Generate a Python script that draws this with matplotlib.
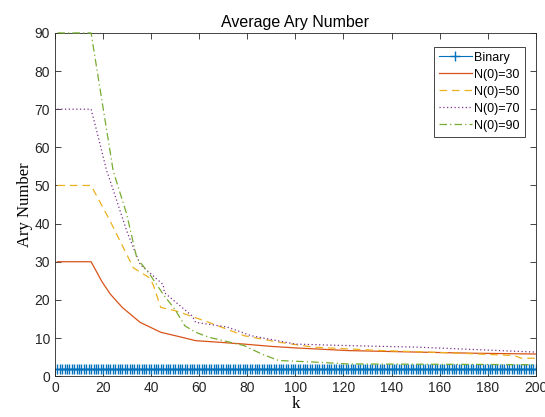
import numpy as np
import matplotlib
matplotlib.use('Agg')
import matplotlib.pyplot as plt

# Datos
k_bin = np.arange(1, 201)
y_bin = [2] * 200

k_30 = [1, 15, 19.5, 23, 28, 35.4, 44, 52.7, 58.5, 68, 78.7, 90, 100, 122, 151, 175, 200]
y_30 = [30, 30, 24.8, 21.5, 18, 14.1, 11.5, 10.2, 9.3, 8.9, 8.4, 7.8, 7.4, 6.7, 6.3, 6.0, 5.8]

k_50 = [1, 15, 22.9, 32.6, 39.5, 41, 44, 49.8, 54, 64, 71.5, 78.7, 93, 107.6, 136, 165, 191, 194, 200]
y_50 = [50, 50, 40.7, 28.4, 25.7, 23.7, 18, 17.2, 16.3, 14.1, 12.3, 10.6, 8.9, 7.6, 6.7, 6.1, 5.4, 4.7, 4.7]

k_70 = [1, 15, 17.3, 21.5, 22.9, 29.8, 35.4, 45, 45.5, 57, 58.5, 71.5, 81.6, 100, 122, 151, 200]
y_70 = [70, 70, 64.4, 53.8, 51.3, 38.1, 29.3, 24, 21.9, 15.8, 14.1, 12.9, 10.6, 8.4, 8.0, 7.6, 6.3]

k_90 = [1, 15, 21.5, 24.2, 29.8, 34, 39.5, 42.3, 45.5, 49.8, 54, 58.5, 64, 78.7, 86, 93, 107.6, 122, 200]
y_90 = [90, 90, 64.4, 53.8, 42.5, 31, 26.6, 24, 21, 17.6, 13.2, 11.5, 10.2, 8.0, 5.8, 4.1, 3.7, 3.2, 3.0]

fig = plt.figure(figsize=(5.45, 4.17), dpi=100)
ax = fig.add_axes([0.101, 0.098, 0.882, 0.823])

ax.plot(k_bin, y_bin, color='#0072BD', marker='+', markersize=6.5, linewidth=0.8, label='Binary')
ax.plot(k_30, y_30, color='#D95319', linestyle='-', linewidth=0.9, label='N(0)=30')
ax.plot(k_50, y_50, color='#EDB120', linestyle=(0, (6, 4)), linewidth=0.9, label='N(0)=50')
ax.plot(k_70, y_70, color='#7E2F8E', linestyle=(0, (1, 2)), linewidth=0.9, label='N(0)=70')
ax.plot(k_90, y_90, color='#77AC30', linestyle=(0, (6, 2.5, 1, 2.5)), linewidth=0.9,
        label='N(0)=90', clip_on=False, zorder=3)

ax.set_xlim(0, 200)
ax.set_ylim(0, 90)
ax.set_xticks(range(0, 201, 20))
ax.set_yticks(range(0, 91, 10))
ax.tick_params(direction='in', top=True, right=True, length=4, width=0.6,
               labelsize=10, colors='#262626')
for lbl in ax.get_xticklabels() + ax.get_yticklabels():
    lbl.set_family('Liberation Sans')
for s in ax.spines.values():
    s.set_linewidth(0.6)
    s.set_color('#262626')

ax.set_title('Average Ary Number', fontsize=11.5, family='Liberation Sans', pad=4)
ax.set_xlabel('k', fontsize=12, family='Liberation Serif', labelpad=1)
ax.set_ylabel('Ary Number', fontsize=12, family='Liberation Serif', labelpad=1)

leg = ax.legend(loc='upper right', bbox_to_anchor=(0.977, 0.96), borderaxespad=0,
                fancybox=False, edgecolor='#262626', framealpha=1,
                prop={'family': 'Liberation Sans', 'size': 9},
                handlelength=2.6, labelspacing=0.4, handletextpad=0.2,
                borderpad=0.4)
leg.get_frame().set_linewidth(0.6)

fig.savefig('out.png', dpi=100)
